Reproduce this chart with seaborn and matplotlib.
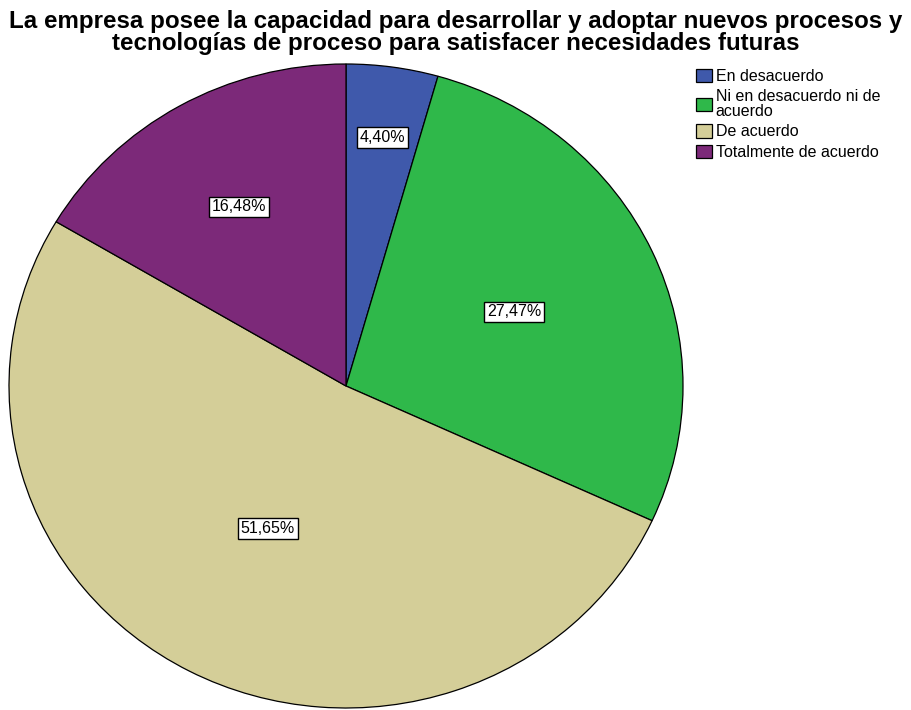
import matplotlib
matplotlib.use("Agg")
import matplotlib.pyplot as plt
import numpy as np
import seaborn as sns

# Response categories and their shares (%)
categories = ["En desacuerdo", "Ni en desacuerdo ni de\nacuerdo", "De acuerdo", "Totalmente de acuerdo"]
percentages = [4.40, 27.47, 51.65, 16.48]
label_texts = ["4,40%", "27,47%", "51,65%", "16,48%"]

title = ("La empresa posee la capacidad para desarrollar y adoptar nuevos procesos y\n"
         "tecnologías de proceso para satisfacer necesidades futuras")

sns.set_theme(style="white")
plt.rcParams["font.family"] = ["Liberation Sans", "DejaVu Sans"]
plt.rcParams["text.color"] = "black"

colors = sns.color_palette(["#3F59AB", "#2FB84A", "#D4CE98", "#7C2979"])

fig = plt.figure(figsize=(9.12, 7.10), dpi=100)
ax = fig.add_axes([9 / 912, 2 / 710, 674 / 912, 644 / 710])

wedges, _ = ax.pie(
    percentages,
    colors=colors,
    startangle=90,
    counterclock=False,
    radius=1.0,
    wedgeprops=dict(edgecolor="black", linewidth=0.9),
)
ax.set_aspect("auto")
ax.set_xlim(-1, 1)
ax.set_ylim(-1, 1)
ax.axis("off")

# Value labels inside each slice, placed along the slice bisector
label_radius = [0.78, 0.55, 0.50, 0.64]
start = 90.0
for val, txt, r in zip(percentages, label_texts, label_radius):
    mid = np.deg2rad(start - val * 3.6 / 2)
    start -= val * 3.6
    ax.text(r * np.cos(mid), r * np.sin(mid), txt, ha="center", va="center",
            fontsize=11.5, color="black",
            bbox=dict(boxstyle="square,pad=0.18", facecolor="white", edgecolor="black", linewidth=1.0))

fig.suptitle(title, x=0.5, y=1 - 10 / 710, fontsize=17.4, fontweight="bold", linespacing=0.95,
             va="top", color="black")

leg = fig.legend(
    wedges, categories,
    loc="upper left", bbox_to_anchor=(694 / 912, 1 - 67 / 710),
    frameon=False, fontsize=11.5,
    handlelength=1.0, handleheight=0.9, handletextpad=0.25,
    labelspacing=0.33, borderpad=0.1, borderaxespad=0.0,
)
for t in leg.get_texts():
    t.set_linespacing(1.0)
    t.set_color("black")
for h in leg.legend_handles:
    h.set_edgecolor("black")
    h.set_linewidth(0.9)

fig.savefig("out.png", dpi=100)
